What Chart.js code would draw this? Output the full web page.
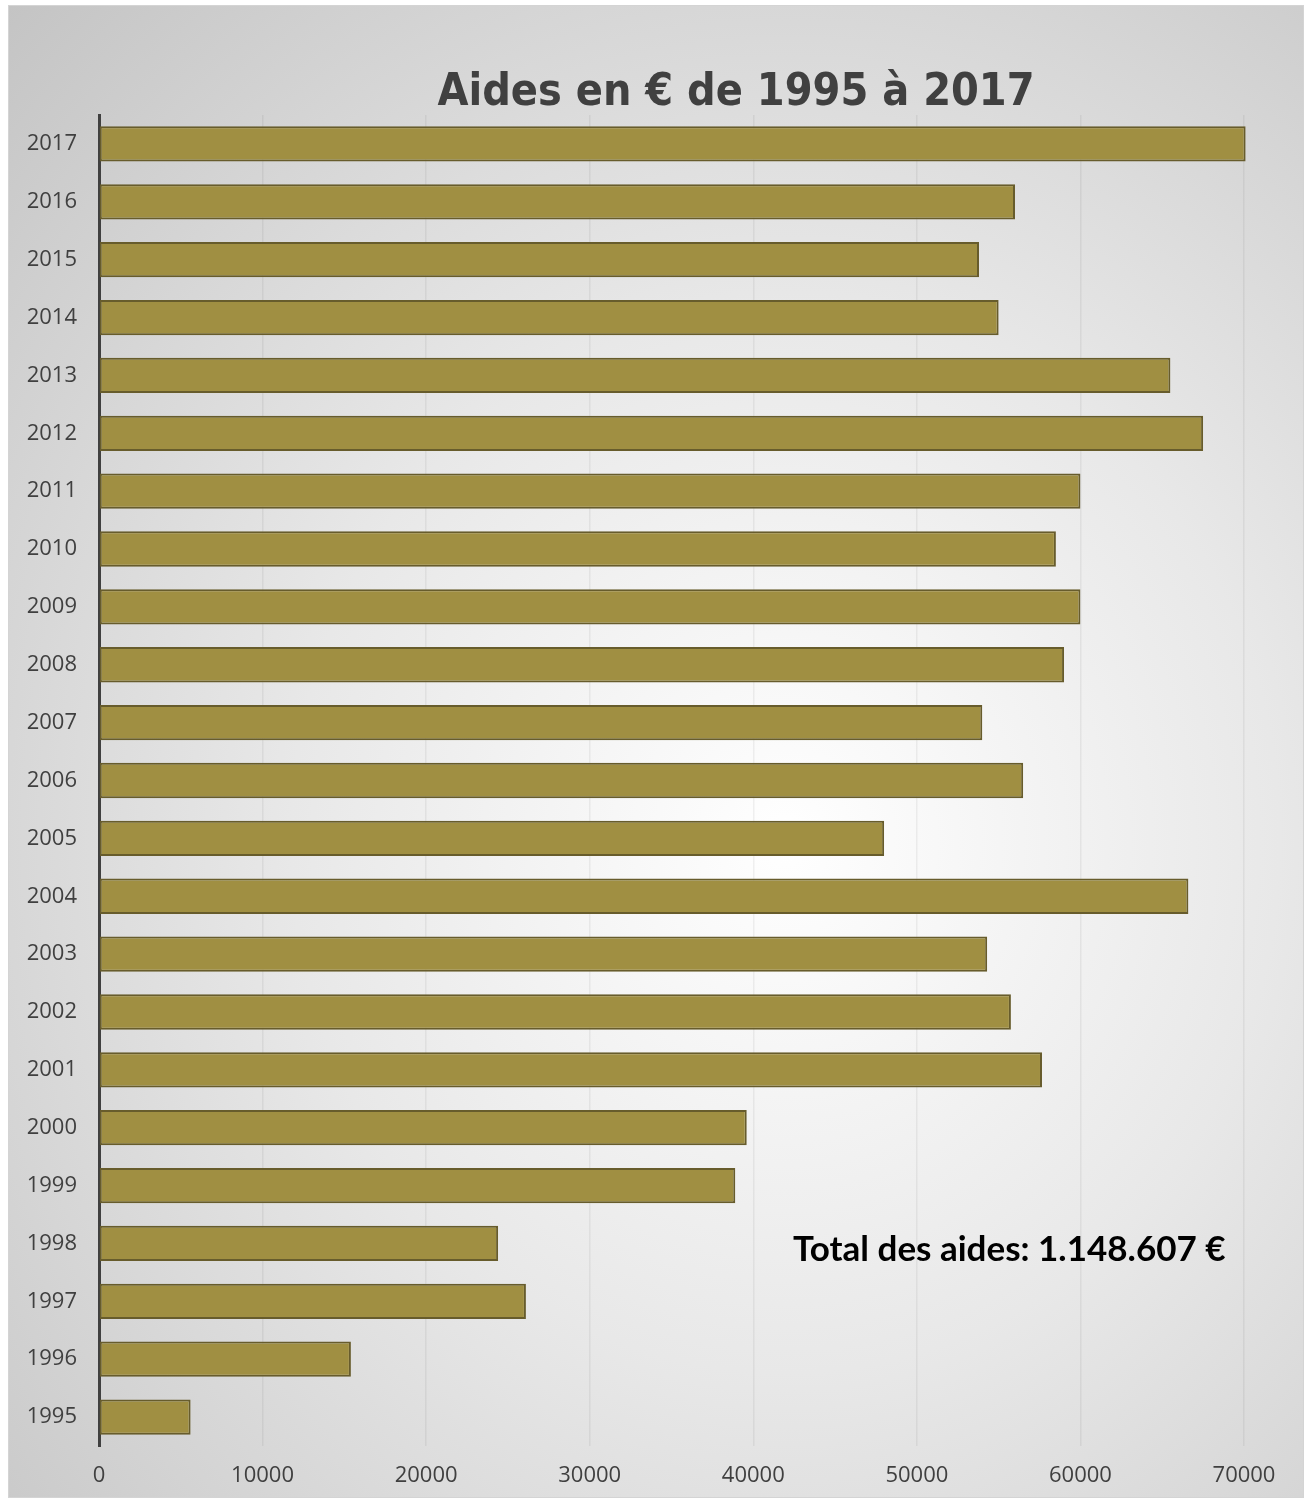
<!DOCTYPE html>
<html>
<head>
<meta charset="utf-8">
<script src="https://cdn.jsdelivr.net/npm/chart.js@4.4.1/dist/chart.umd.min.js"></script>
<style>
  html, body { margin: 0; padding: 0; background: #ffffff; }
  #frame {
    position: absolute; left: 8px; top: 5px; width: 1296px; height: 1493px;
    background: radial-gradient(ellipse farthest-corner at 60% 56%, #ffffff 0%, #e8e8e8 45%, #c4c4c4 100%);
    border: 1px solid #d4d4d4; box-sizing: border-box;
  }
  #title {
    position: absolute; left: 727px; top: 58px; transform: translateX(-50%);
    white-space: nowrap; font-family: "DejaVu Sans Condensed", "DejaVu Sans", sans-serif;
    font-weight: bold; font-size: 44.5px; color: #404040;
  }
  #total {
    position: absolute; left: 784px; top: 1220px; white-space: nowrap;
    font-family: Lato, "Open Sans", sans-serif; font-weight: bold; font-size: 35px; color: #000;
  }
  canvas { position: absolute; left: 0; top: 0; }
</style>
</head>
<body>
<div id="frame">
  <canvas id="aidesChart" width="1296" height="1493"></canvas>
  <div id="title">Aides en € de 1995 à 2017</div>
  <div id="total">Total des aides: 1.148.607 €</div>
</div>
<script>
// === DATA ===
const years = ["1995", "1996", "1997", "1998", "1999", "2000", "2001", "2002", "2003", "2004", "2005", "2006",
               "2007", "2008", "2009", "2010", "2011", "2012", "2013", "2014", "2015", "2016", "2017"];
const aides = [5600, 15400, 26100, 24400, 38900, 39600, 57650, 55750, 54300, 66600, 48000, 56500,
               54000, 59000, 60000, 58500, 60000, 67500, 65500, 55000, 53800, 56000, 70100];
const xTicks = [0, 10000, 20000, 30000, 40000, 50000, 60000, 70000];

// === CHART ===
function createAidesChart() {
    const ctx = document.getElementById("aidesChart").getContext("2d");

    new Chart(ctx, {
        type: "bar",
        data: {
            labels: years,
            datasets: [{
                label: "Aides",
                data: aides,
                backgroundColor: "#a08f42",
                borderColor: "#675c2c",
                borderWidth: 2,
                borderSkipped: false,
                barPercentage: 0.61,
                categoryPercentage: 1,
                clip: false
            }]
        },
        options: {
            indexAxis: "y",
            responsive: false,
            animation: false,
            layout: { padding: { top: 109, right: 61, left: 0, bottom: 0 } },
            plugins: {
                legend: { display: false },
                tooltip: { enabled: false }
            },
            scales: {
                x: {
                    min: 0,
                    max: 70000,
                    afterBuildTicks: scale => { scale.ticks = xTicks.map(v => ({ value: v })); },
                    afterFit: scale => { scale.height = 53; },
                    grid: { color: "rgba(0,0,0,0.055)", lineWidth: 1.5, drawTicks: false },
                    border: { display: false },
                    ticks: {
                        padding: 17,
                        color: "#404040",
                        font: { family: "'Open Sans', sans-serif", size: 22 },
                        callback: v => String(v)
                    }
                },
                y: {
                    reverse: true,
                    afterFit: scale => { scale.width = 90; },
                    grid: { display: false, drawTicks: false },
                    border: { display: true, color: "#404040", width: 3 },
                    ticks: {
                        padding: 22,
                        color: "#404040",
                        font: { family: "'Open Sans', sans-serif", size: 22 }
                    }
                }
            }
        }
    });
}

document.addEventListener("DOMContentLoaded", createAidesChart);
</script>
</body>
</html>
